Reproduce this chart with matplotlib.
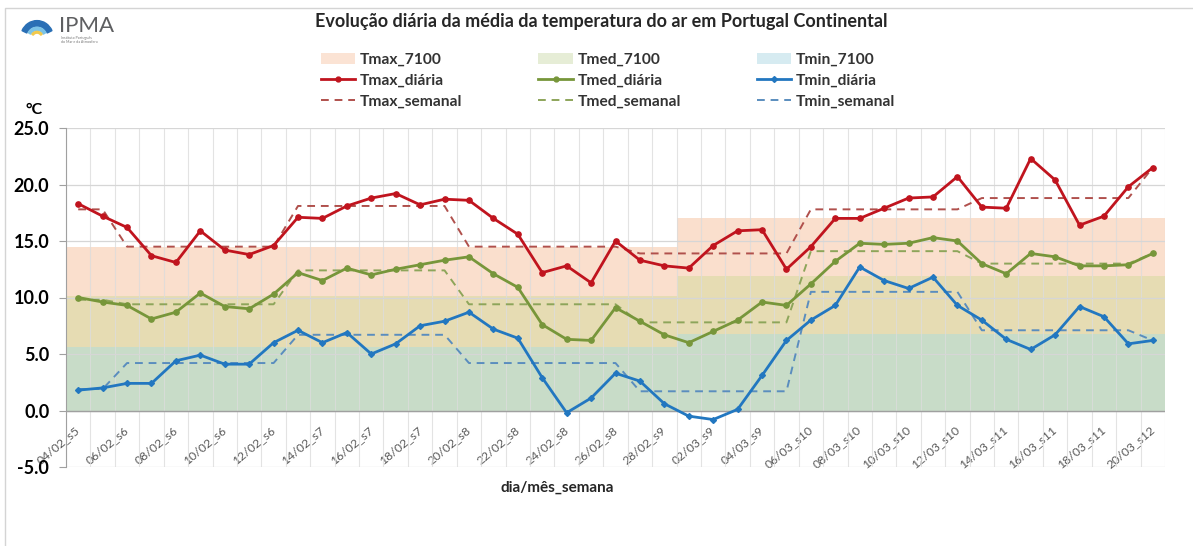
import numpy as np
import matplotlib
matplotlib.use("Agg")
import matplotlib.pyplot as plt
from matplotlib.patches import Patch, Wedge, Rectangle
from matplotlib.lines import Line2D

plt.rcParams['font.family'] = ['Lato', 'DejaVu Sans']

# ---------------- data ----------------
days = ["04/02_s5", "05/02_s5", "06/02_s6", "07/02_s6", "08/02_s6", "09/02_s6", "10/02_s6",
        "11/02_s6", "12/02_s6", "13/02_s7", "14/02_s7", "15/02_s7", "16/02_s7", "17/02_s7",
        "18/02_s7", "19/02_s7", "20/02_s8", "21/02_s8", "22/02_s8", "23/02_s8", "24/02_s8",
        "25/02_s8", "26/02_s8", "27/02_s9", "28/02_s9", "01/03_s9", "02/03_s9", "03/03_s9",
        "04/03_s9", "05/03_s9", "06/03_s10", "07/03_s10", "08/03_s10", "09/03_s10",
        "10/03_s10", "11/03_s10", "12/03_s10", "13/03_s11", "14/03_s11", "15/03_s11",
        "16/03_s11", "17/03_s11", "18/03_s11", "19/03_s11", "20/03_s12"]

tmax_diaria = [18.3, 17.2, 16.2, 13.7, 13.1, 15.9, 14.2, 13.8, 14.6, 17.1, 17.0, 18.1, 18.8,
               19.2, 18.2, 18.7, 18.6, 17.0, 15.6, 12.2, 12.8, 11.3, 15.0, 13.3, 12.8, 12.6,
               14.6, 15.9, 16.0, 12.5, 14.5, 17.0, 17.0, 17.9, 18.8, 18.9, 20.7, 18.0, 17.9,
               22.3, 20.4, 16.4, 17.2, 19.8, 21.5]
tmed_diaria = [10.0, 9.6, 9.3, 8.1, 8.7, 10.4, 9.2, 9.0, 10.3, 12.2, 11.5, 12.6, 12.0, 12.5,
               12.9, 13.3, 13.6, 12.1, 10.9, 7.6, 6.3, 6.2, 9.1, 7.9, 6.7, 6.0, 7.0, 8.0, 9.6,
               9.3, 11.2, 13.2, 14.8, 14.7, 14.8, 15.3, 15.0, 13.0, 12.1, 13.9, 13.6, 12.8,
               12.8, 12.9, 13.9]
tmin_diaria = [1.8, 2.0, 2.4, 2.4, 4.4, 4.9, 4.1, 4.1, 6.0, 7.1, 6.0, 6.9, 5.0, 5.9, 7.5, 7.9,
               8.7, 7.2, 6.4, 2.9, -0.2, 1.1, 3.3, 2.6, 0.6, -0.5, -0.8, 0.1, 3.1, 6.2, 8.0,
               9.3, 12.7, 11.5, 10.8, 11.8, 9.3, 8.0, 6.3, 5.4, 6.7, 9.2, 8.3, 5.9, 6.2]

# weekly means (s5 .. s12) and number of days of each week shown
week_days = [2, 7, 7, 7, 7, 7, 7, 1]
tmax_semanal = [17.8, 14.5, 18.1, 14.5, 13.9, 17.8, 18.8, 21.5]
tmed_semanal = [9.8, 9.4, 12.4, 9.4, 7.8, 14.1, 13.0, 13.9]
tmin_semanal = [1.9, 4.2, 6.7, 4.2, 1.7, 10.5, 7.1, 6.2]

# 1971-2000 normals (February, March) and number of days of each month shown
month_days = [25, 20]
tmax_7100 = [14.5, 17.0]
tmed_7100 = [10.1, 11.9]
tmin_7100 = [5.6, 6.8]

title = "Evolução diária da média da temperatura do ar em Portugal Continental"

# ---------------- figure ----------------
W, H = 1193, 546
fig = plt.figure(figsize=(W / 100, H / 100), dpi=100)
ax = fig.add_axes([66 / W, 1 - 467 / H, (1165 - 66) / W, (467 - 128) / H])

x = np.arange(len(days))
C_MAX_N, C_MED_N, C_MIN_N = '#FADFCD', '#E6DCB3', '#C8DCC8'
ax.bar(x, np.repeat(tmax_7100, month_days), width=1.0, color=C_MAX_N, linewidth=0, zorder=1)
ax.bar(x, np.repeat(tmed_7100, month_days), width=1.0, color=C_MED_N, linewidth=0, zorder=1.1)
ax.bar(x, np.repeat(tmin_7100, month_days), width=1.0, color=C_MIN_N, linewidth=0, zorder=1.2)

dash = (0, (4, 3))
ax.plot(x, np.repeat(tmax_semanal, week_days), color='#B0504C', lw=1.4, ls=dash, zorder=3)
ax.plot(x, np.repeat(tmed_semanal, week_days), color='#8DA55A', lw=1.4, ls=dash, zorder=3)
ax.plot(x, np.repeat(tmin_semanal, week_days), color='#5A8DBE', lw=1.4, ls=dash, zorder=3)

ax.plot(x, tmax_diaria, color='#C0141E', lw=2.0, marker='o', ms=3.8, zorder=4)
ax.plot(x, tmed_diaria, color='#77963A', lw=2.0, marker='o', ms=3.8, zorder=4)
ax.plot(x, tmin_diaria, color='#2277C0', lw=2.0, marker='D', ms=3.0, zorder=4)

ax.set_xlim(-0.5, len(days) - 0.5)
ax.set_ylim(-5, 25)
ax.set_yticks(np.arange(-5, 26, 5))
ax.set_yticklabels([f"{v:.1f}" for v in np.arange(-5, 26, 5)], fontsize=13, fontweight='bold')
ax.set_xticks(np.arange(-0.5, len(days), 1), minor=True)
ax.set_xticks(x[::2])
ax.set_xticklabels(days[::2], fontsize=8.8, color='#595959')
for lbl in ax.get_xticklabels():
    lbl.set_rotation(40)
    lbl.set_ha('right')
    lbl.set_va('center')
    lbl.set_rotation_mode('anchor')
ax.tick_params(axis='x', which='major', length=0, pad=-28)
ax.tick_params(axis='x', which='minor', length=0)
ax.tick_params(axis='y', length=5, color='#A0A0A0', pad=7)

ax.set_axisbelow('line')
ax.grid(which='minor', axis='x', color='#DCDCDC', lw=0.8, alpha=0.8)
ax.grid(which='major', axis='y', color='#D6D6D6', lw=0.9)
ax.grid(which='major', axis='x', visible=False)
ax.axhline(0, color='#A0A0A0', lw=1.0, zorder=1.6)
for s in ['top', 'right', 'bottom']:
    ax.spines[s].set_visible(False)
ax.spines['left'].set_color('#A0A0A0')

# titles / labels
fig.text(601 / W, 1 - 22 / H, title, ha='center', va='center', fontsize=13,
         fontweight='bold', color='#262626')
fig.text(34 / W, 1 - 110 / H, "°C", ha='center', va='center', fontsize=11.5, fontweight='bold')
fig.text(557 / W, 1 - 488 / H, "dia/mês_semana", ha='center', va='center', fontsize=11,
         fontweight='bold', color='#262626')

# legend
handles = [
    Patch(facecolor='#FBE3D4', edgecolor='none'),
    Line2D([], [], color='#C0141E', lw=2, marker='o', ms=3.5),
    Line2D([], [], color='#B0504C', lw=1.4, ls=dash),
    Patch(facecolor='#E6EDD6', edgecolor='none'),
    Line2D([], [], color='#77963A', lw=2, marker='o', ms=3.5),
    Line2D([], [], color='#8DA55A', lw=1.4, ls=dash),
    Patch(facecolor='#D6EBF1', edgecolor='none'),
    Line2D([], [], color='#2277C0', lw=2, marker='D', ms=3),
    Line2D([], [], color='#5A8DBE', lw=1.4, ls=dash),
]
labels = ["Tmax_7100", "Tmax_diária", "Tmax_semanal",
          "Tmed_7100", "Tmed_diária", "Tmed_semanal",
          "Tmin_7100", "Tmin_diária", "Tmin_semanal"]
leg = fig.legend(handles, labels, ncol=3, loc='upper left', bbox_to_anchor=(313 / W, 1 - 45 / H),
                 frameon=False, prop={'size': 11.2, 'weight': 'bold'}, handlelength=2.2,
                 handletextpad=0.3, columnspacing=4.9, labelspacing=0.45, borderpad=0)
for t in leg.get_texts():
    t.set_color('#333333')

# logo
lax = fig.add_axes([18 / W, 1 - 38 / H, 38 / W, 20 / H])
lax.set_xlim(-1.15, 1.15)
lax.set_ylim(0, 1.15)
lax.axis('off')
lax.add_patch(Wedge((0, 0), 1.0, 25, 155, width=0.32, color='#2A6FB5'))
lax.add_patch(Wedge((0, 0), 0.62, 30, 150, width=0.18, color='#7CC3E6'))
lax.add_patch(Wedge((0, 0), 0.38, 35, 145, width=0.1, color='#F2C94C'))
fig.text(59 / W, 1 - 26 / H, "IPMA", ha='left', va='center', fontsize=16, color='#5E5F61')
fig.text(61 / W, 1 - 40 / H, "Instituto Português\ndo Mar e da Atmosfera", ha='left',
         va='center', fontsize=2.6, color='#777777', linespacing=1.0)

# outer frame (top and left)
fig.add_artist(Rectangle((5 / W, -0.05), 1.2, 1 - 8 / H + 0.05, transform=fig.transFigure,
                         fill=False, edgecolor='#D4D4D4', lw=1.0))

fig.savefig("out.png", dpi=100)
